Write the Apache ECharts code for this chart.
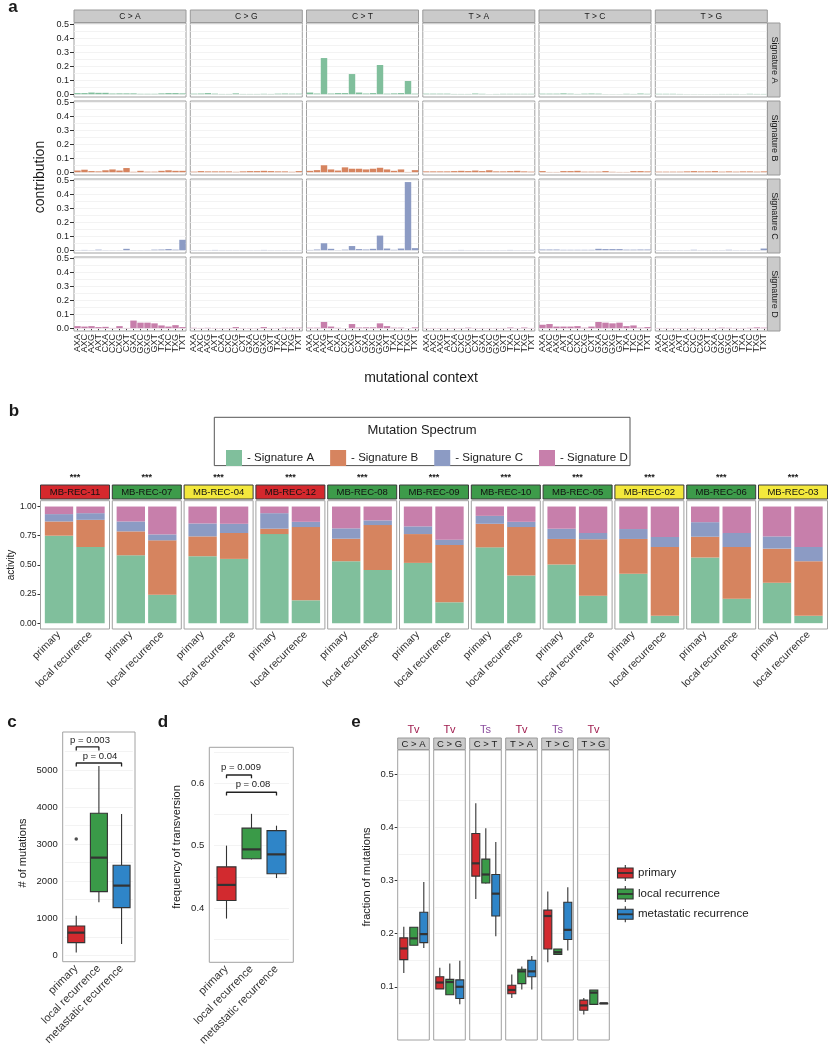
<!DOCTYPE html>
<html><head><meta charset="utf-8">
<script src="https://cdn.jsdelivr.net/npm/echarts@6/dist/echarts.min.js"></script>
<style>html,body{margin:0;padding:0;background:#fff}#c{width:830px;height:1050px}</style>
</head><body><div id="c"></div>
<script>
// ---------------- DATA ----------------
const contexts = ['AXA','AXC','AXG','AXT','CXA','CXC','CXG','CXT','GXA','GXC','GXG','GXT','TXA','TXC','TXG','TXT'];
const mutTypes = ['C > A','C > G','C > T','T > A','T > C','T > G'];
const sigNames = ['Signature A','Signature B','Signature C','Signature D'];
// signature profiles: 6 mutation types x 16 contexts (C>A, C>G, C>T, T>A, T>C, T>G)
const sigA = [
  0.008,0.008,0.012,0.01,0.01,0.005,0.006,0.006,0.006,0.003,0.003,0.003,0.006,0.008,0.008,0.006,
  0.004,0.005,0.008,0.004,0.002,0.002,0.006,0.002,0.002,0.002,0.003,0.002,0.004,0.005,0.004,0.004,
  0.012,0.005,0.26,0.005,0.008,0.008,0.145,0.012,0.005,0.008,0.21,0.004,0.006,0.008,0.095,0.004,
  0.004,0.004,0.004,0.004,0.002,0.002,0.002,0.005,0.003,0.001,0.002,0.003,0.003,0.003,0.003,0.003,
  0.004,0.004,0.004,0.006,0.004,0.002,0.004,0.005,0.004,0.001,0.001,0.001,0.003,0.002,0.005,0.003,
  0.003,0.003,0.003,0.002,0.001,0.001,0.001,0.001,0.001,0.002,0.002,0.002,0.001,0.003,0.002,0.002];
const sigB = [
  0.012,0.018,0.008,0.006,0.014,0.02,0.012,0.03,0.003,0.01,0.004,0.004,0.01,0.014,0.01,0.01,
  0.004,0.008,0.006,0.006,0.006,0.006,0.003,0.006,0.008,0.008,0.01,0.008,0.006,0.006,0.003,0.008,
  0.01,0.015,0.05,0.02,0.012,0.035,0.025,0.025,0.02,0.025,0.032,0.02,0.01,0.02,0.002,0.015,
  0.006,0.006,0.006,0.006,0.008,0.01,0.008,0.012,0.008,0.014,0.006,0.006,0.008,0.01,0.006,0.004,
  0.008,0.002,0.002,0.008,0.008,0.01,0.004,0.004,0.004,0.008,0.003,0.002,0.002,0.008,0.008,0.006,
  0.004,0.004,0.004,0.004,0.006,0.008,0.006,0.006,0.008,0.004,0.006,0.004,0.006,0.006,0.004,0.006];
const sigC = [
  0.001,0.002,0.001,0.004,0.001,0.001,0.001,0.01,0.001,0.001,0.001,0.004,0.005,0.008,0.004,0.075,
  0.001,0.001,0.001,0.002,0.001,0.001,0.001,0.001,0.001,0.001,0.002,0.001,0.001,0.001,0.001,0.001,
  0.002,0.005,0.05,0.01,0.001,0.004,0.03,0.008,0.005,0.01,0.105,0.012,0.003,0.012,0.49,0.015,
  0.001,0.001,0.001,0.001,0.001,0.002,0.001,0.001,0.001,0.001,0.001,0.001,0.002,0.001,0.001,0.001,
  0.005,0.005,0.005,0.003,0.003,0.003,0.003,0.003,0.01,0.008,0.008,0.008,0.004,0.004,0.005,0.005,
  0.001,0.001,0.001,0.001,0.001,0.003,0.001,0.001,0.001,0.001,0.003,0.001,0.001,0.001,0.001,0.012];
const sigD = [
  0.015,0.012,0.015,0.008,0.01,0.002,0.015,0.002,0.055,0.04,0.04,0.035,0.02,0.012,0.022,0.008,
  0.003,0.002,0.003,0.002,0.002,0.002,0.008,0.002,0.002,0.002,0.008,0.002,0.002,0.004,0.004,0.004,
  0.004,0.004,0.045,0.012,0.003,0.001,0.03,0.005,0.006,0.006,0.035,0.015,0.004,0.004,0.001,0.006,
  0.002,0.002,0.002,0.002,0.002,0.002,0.004,0.002,0.002,0.002,0.002,0.002,0.005,0.002,0.005,0.002,
  0.025,0.03,0.012,0.012,0.012,0.015,0.004,0.012,0.045,0.04,0.035,0.04,0.015,0.02,0.004,0.008,
  0.002,0.002,0.002,0.002,0.002,0.003,0.002,0.002,0.002,0.004,0.003,0.002,0.002,0.003,0.006,0.004];
const aTicks = [0, 0.1, 0.2, 0.3, 0.4, 0.5];
const aGrid = [0, 0.05, 0.1, 0.15, 0.2, 0.25, 0.3, 0.35, 0.4, 0.45, 0.5];

// panel b
const samples = ['MB-REC-11','MB-REC-07','MB-REC-04','MB-REC-12','MB-REC-08','MB-REC-09','MB-REC-10','MB-REC-05','MB-REC-02','MB-REC-06','MB-REC-03'];
const sampleClass = [1,2,3,1,2,2,2,2,3,2,3];
const sampleStars = ['***','***','***','***','***','***','***','***','***','***','***'];
const conditions = ['primary','local recurrence'];
const priA = [0.750,0.582,0.574,0.764,0.531,0.517,0.650,0.503,0.423,0.563,0.347];
const priB = [0.122,0.205,0.170,0.046,0.193,0.247,0.202,0.219,0.299,0.178,0.292];
const priC = [0.063,0.085,0.111,0.133,0.089,0.066,0.068,0.088,0.085,0.125,0.105];
const priD = [0.065,0.128,0.145,0.057,0.187,0.170,0.080,0.190,0.193,0.134,0.256];
const locA = [0.653,0.244,0.551,0.196,0.455,0.179,0.409,0.236,0.063,0.210,0.063];
const locB = [0.233,0.466,0.222,0.628,0.386,0.491,0.415,0.483,0.590,0.443,0.468];
const locC = [0.057,0.051,0.079,0.045,0.040,0.046,0.045,0.054,0.086,0.120,0.122];
const locD = [0.057,0.239,0.148,0.131,0.119,0.284,0.131,0.227,0.261,0.227,0.347];
const bTicks = [0, 0.25, 0.5, 0.75, 1];

// panel c / d / e
const groups = ['primary','local recurrence','metastatic recurrence'];
// [min, Q1, median, Q3, max]
const mutCount = [[72,342,611,791,1070],[1430,1718,2635,3831,5108],[306,1286,1880,2428,3813]];
const mutCountOutliers = [[0,3138]];
const cTicks = [0,1000,2000,3000,4000,5000];
const cGrid = [0,500,1000,1500,2000,2500,3000,3500,4000,4500,5000,5500];
const cTests = [{from:0,to:1,p:'p = 0.003',y:5621},{from:0,to:2,p:'p = 0.04',y:5189}];
const tvFreq = [[0.383,0.412,0.437,0.466,0.500],[0.478,0.479,0.494,0.528,0.551],[0.448,0.455,0.486,0.524,0.532]];
const dTicks = [0.4,0.5,0.6];
const dGrid = [0.35,0.4,0.45,0.5,0.55,0.6,0.65];
const dTests = [{from:0,to:1,p:'p = 0.009',y:0.6133},{from:0,to:2,p:'p = 0.08',y:0.5856}];
const mutClass = ['Tv','Tv','Ts','Tv','Ts','Tv'];
const fracPrimary = [[0.126,0.151,0.172,0.192,0.213],[0.096,0.096,0.108,0.119,0.136],[0.265,0.308,0.332,0.388,0.445],[0.079,0.087,0.094,0.103,0.123],[0.146,0.171,0.233,0.244,0.279],[0.048,0.056,0.065,0.075,0.079]];
const fracLocal   = [[0.178,0.178,0.191,0.212,0.212],[0.085,0.085,0.109,0.114,0.144],[0.294,0.295,0.311,0.340,0.398],[0.095,0.106,0.129,0.133,0.138],[0.161,0.161,0.165,0.171,0.171],[0.066,0.067,0.089,0.094,0.094]];
const fracMeta    = [[0.173,0.183,0.199,0.240,0.297],[0.067,0.078,0.100,0.113,0.149],[0.195,0.233,0.275,0.311,0.372],[0.095,0.119,0.129,0.150,0.158],[0.168,0.189,0.207,0.259,0.287],[0.069,0.069,0.069,0.069,0.069]];
const eTicks = [0.1,0.2,0.3,0.4,0.5];
const eGrid = [0.05,0.1,0.15,0.2,0.25,0.3,0.35,0.4,0.45,0.5];

// ---------------- STYLE ----------------
const FONT = 'Liberation Sans, Arial, Helvetica, sans-serif';
const sigColors = ['#80bf9c','#d6845f','#8c9bc4','#c77fab'];
const classColors = {1:'#d5282d',2:'#3d9b4a',3:'#f3e83c'};
const groupColors = ['#d22a2f','#3a9a48','#2f85c8'];
const tvColors = {Tv:'#a01c4e', Ts:'#8a4d9e'};
const FRAME = '#a2a2a2';
const STRIP_FILL = '#cacaca';
const STRIP_STROKE = '#9a9a9a';
const GRIDLINE = '#f2f2f2';

const option = {animation:false, textStyle:{fontFamily:FONT}, grid:[], xAxis:[], yAxis:[], series:[], graphic:[]};
const gfx = option.graphic;
function addGrid(g, xa, ya){
  const gi = option.grid.length;
  option.grid.push(g);
  option.xAxis.push(Object.assign({gridIndex:gi}, xa));
  option.yAxis.push(Object.assign({gridIndex:gi}, ya));
  return gi;
}
function gridLines(gi, vals){
  option.series.push({type:'line', xAxisIndex:gi, yAxisIndex:gi, data:[], z:1, silent:true,
    markLine:{silent:true, z:1, symbol:'none', animation:false, label:{show:false},
      lineStyle:{color:GRIDLINE, type:'solid', width:0.9}, data: vals.map(v=>({yAxis:v}))}});
}
function txt(x,y,text,opt){
  opt = opt||{};
  gfx.push({type:'text', x:x, y:y, rotation:opt.rot||0, silent:true, z:20,
    style:{text:text, fill:opt.color||'#1a1a1a', fontSize:opt.size||10, fontFamily:FONT,
      fontWeight:opt.weight||'normal', align:opt.align||'center', verticalAlign:opt.valign||'middle',
      textAlign:opt.align||'center', textVerticalAlign:opt.valign||'middle'}});
}
function rect(x,y,w,h,fill,stroke,lw,z){
  gfx.push({type:'rect', silent:true, z:z||15, shape:{x:x,y:y,width:w,height:h},
    style:{fill:fill||'none', stroke:stroke||'none', lineWidth:lw||1}});
}
function line(x1,y1,x2,y2,stroke,lw,z){
  gfx.push({type:'line', silent:true, z:z||20, shape:{x1:x1,y1:y1,x2:x2,y2:y2}, style:{stroke:stroke||'#222', lineWidth:lw||1}});
}
const noSplit = {show:false};

// ggplot-like box (no whisker caps, thick median)
function boxRender(bw){
  return function(params, api){
    const x = api.value(0);
    const pMin = api.coord([x, api.value(1)]), pQ1 = api.coord([x, api.value(2)]),
          pMed = api.coord([x, api.value(3)]), pQ3 = api.coord([x, api.value(4)]),
          pMax = api.coord([x, api.value(5)]);
    const cx = pMed[0], hw = bw/2, stroke = '#333';
    return {type:'group', children:[
      {type:'line', shape:{x1:cx,y1:pMax[1],x2:cx,y2:pQ3[1]}, style:{stroke:stroke, lineWidth:1.1}},
      {type:'line', shape:{x1:cx,y1:pQ1[1],x2:cx,y2:pMin[1]}, style:{stroke:stroke, lineWidth:1.1}},
      {type:'rect', shape:{x:cx-hw,y:pQ3[1],width:bw,height:Math.max(pQ1[1]-pQ3[1],0.5)},
        style:{fill:groupColors[params.dataIndex], stroke:stroke, lineWidth:1.1}},
      {type:'line', shape:{x1:cx-hw,y1:pMed[1],x2:cx+hw,y2:pMed[1]}, style:{stroke:stroke, lineWidth:2.2}}
    ]};
  };
}
function boxSeries(gi, vals, bw){
  return {type:'custom', xAxisIndex:gi, yAxisIndex:gi, silent:true, renderItem:boxRender(bw),
    encode:{x:0, y:[1,2,3,4,5]}, data: vals.map((v,k)=>[k].concat(v)), z:3};
}

// ---------------- PANEL A ----------------
const aCols = [74,190.3,306.5,422.8,539,655.3];
const aW = 112, aH = 74;
const profiles = [sigA, sigB, sigC, sigD];
for (let r=0;r<4;r++){
  const top = 23 + r*78;
  for (let c=0;c<6;c++){
    const gi = addGrid({left:aCols[c], top:top, width:aW, height:aH, show:true, borderColor:FRAME, borderWidth:1, backgroundColor:'#fff'},
      {type:'category', data:contexts, axisLine:{show:false},
       axisTick:{show:r===3, length:2, alignWithLabel:true, interval:0, lineStyle:{color:'#444'}},
       axisLabel:{show:r===3, rotate:90, interval:0, fontSize:9, margin:3, color:'#222'}},
      {type:'value', min:-0.02, max:0.512, splitLine:noSplit, axisLine:{show:false},
       axisTick:{show:c===0, length:4, customValues:aTicks, lineStyle:{color:'#333'}},
       axisLabel:{show:c===0, customValues:aTicks, fontSize:9, margin:5, color:'#222', formatter:v=>Number(v).toFixed(1)}});
    gridLines(gi, aGrid);
    option.series.push({type:'bar', xAxisIndex:gi, yAxisIndex:gi, barCategoryGap:'8%', z:2,
      data: profiles[r].slice(c*16, c*16+16), itemStyle:{color:sigColors[r]}, silent:true});
  }
}
for (let c=0;c<6;c++){
  rect(aCols[c], 10, aW, 12.5, STRIP_FILL, STRIP_STROKE, 1);
  txt(aCols[c]+aW/2, 16.5, mutTypes[c], {size:8.5});
}
for (let r=0;r<4;r++){
  const top = 23 + r*78;
  rect(767.5, top, 12.5, aH, STRIP_FILL, STRIP_STROKE, 1);
  txt(774, top+aH/2, sigNames[r], {size:9, rot:-Math.PI/2});
}
txt(40, 177, 'contribution', {size:14, rot:Math.PI/2});
txt(421, 378, 'mutational context', {size:14});
txt(13, 7, 'a', {size:17, weight:'bold'});

// ---------------- PANEL B ----------------
txt(14, 411, 'b', {size:17, weight:'bold'});
rect(214.3, 417.3, 415.7, 48.3, 'none', '#555', 1, 1);
txt(422, 430, 'Mutation Spectrum', {size:13});
option.legend = {data:sigNames, left:221, top:445, itemWidth:16, itemHeight:16, itemGap:16, icon:'rect',
  selectedMode:false, z:30, textStyle:{fontSize:11.5, color:'#1a1a1a', fontFamily:FONT},
  formatter: n => '- ' + n};
const priVals = [priA, priB, priC, priD], locVals = [locA, locB, locC, locD];
const bTop = 500.7, bH = 128.3, bFW = 69;
for (let i=0;i<samples.length;i++){
  const fx = 40.5 + 71.8*i;
  const gi = addGrid({left:fx+2.75, top:bTop, width:63, height:bH},
    {type:'category', data:conditions, axisLine:{show:false},
     axisTick:{alignWithLabel:true, length:3, lineStyle:{color:'#333'}},
     axisLabel:{rotate:45, interval:0, fontSize:10.5, margin:4, color:'#333'}},
    {type:'value', min:-0.05, max:1.05, offset:2.75, splitLine:noSplit, axisLine:{show:false},
     axisTick:{show:i===0, length:3, customValues:bTicks, lineStyle:{color:'#333'}},
     axisLabel:{show:i===0, customValues:bTicks, fontSize:8.5, margin:4, color:'#222', formatter:v=>Number(v).toFixed(2)}});
  for (let s=0;s<4;s++){
    option.series.push({type:'bar', name:sigNames[s], stack:'b'+i, xAxisIndex:gi, yAxisIndex:gi,
      barCategoryGap:'10%', data:[priVals[s][i], locVals[s][i]], itemStyle:{color:sigColors[s]}, silent:true});
  }
  rect(fx, bTop, bFW, bH, 'none', FRAME, 1);
  rect(fx, 485, bFW, 14, classColors[sampleClass[i]], '#3a3a3a', 1);
  txt(fx+bFW/2, 492.3, samples[i], {size:9.5, color:'#111'});
  txt(fx+bFW/2, 477.5, sampleStars[i], {size:9, weight:'bold'});
}
txt(11, 565, 'activity', {size:10, rot:Math.PI/2});

// ---------------- PANEL C ----------------
txt(12, 722, 'c', {size:17, weight:'bold'});
{
  const gi = addGrid({left:64.9, top:732, width:68, height:229.7},
    {type:'category', data:groups, axisLine:{show:false},
     axisTick:{alignWithLabel:true, length:4, lineStyle:{color:'#333'}},
     axisLabel:{rotate:45, interval:0, fontSize:11, margin:5, color:'#333'}},
    {type:'value', min:-173, max:6025, offset:2.2, splitLine:noSplit, axisLine:{show:false},
     axisTick:{length:4, customValues:cTicks, lineStyle:{color:'#333'}},
     axisLabel:{customValues:cTicks, fontSize:9.5, margin:5, color:'#222', formatter:v=>String(v)}});
  gridLines(gi, cGrid);
  option.series.push(boxSeries(gi, mutCount, 17));
  option.series.push({type:'scatter', xAxisIndex:gi, yAxisIndex:gi, symbolSize:3.5, silent:true,
    itemStyle:{color:'#222'}, data:mutCountOutliers});
  cTests.forEach(t=>{
    const d = (6025+173)/229.7*3.5;
    option.series.push({type:'line', xAxisIndex:gi, yAxisIndex:gi, symbol:'none', silent:true,
      lineStyle:{color:'#222', width:1.3},
      data:[[t.from, t.y-d],[t.from, t.y],[t.to, t.y],[t.to, t.y-d]]});
  });
  rect(62.7, 732, 72.3, 229.7, 'none', FRAME, 1);
  txt(90, 740, cTests[0].p, {size:9.5});
  txt(100, 756, cTests[1].p, {size:9.5});
  txt(23, 853, '# of mutations', {size:11, rot:Math.PI/2});
}

// ---------------- PANEL D ----------------
txt(163, 722, 'd', {size:17, weight:'bold'});
{
  const gi = addGrid({left:214, top:747.3, width:75, height:215},
    {type:'category', data:groups, axisLine:{show:false},
     axisTick:{alignWithLabel:true, length:4, lineStyle:{color:'#333'}},
     axisLabel:{rotate:45, interval:0, fontSize:11, margin:5, color:'#333'}},
    {type:'value', min:0.3129, max:0.6577, offset:4.7, splitLine:noSplit, axisLine:{show:false},
     axisTick:{length:4, customValues:dTicks, lineStyle:{color:'#333'}},
     axisLabel:{customValues:dTicks, fontSize:9.5, margin:5, color:'#222', formatter:v=>Number(v).toFixed(1)}});
  gridLines(gi, dGrid);
  option.series.push(boxSeries(gi, tvFreq, 19));
  dTests.forEach(t=>{
    const d = (0.6577-0.3129)/215*3.2;
    option.series.push({type:'line', xAxisIndex:gi, yAxisIndex:gi, symbol:'none', silent:true,
      lineStyle:{color:'#222', width:1.3},
      data:[[t.from, t.y-d],[t.from, t.y],[t.to, t.y],[t.to, t.y-d]]});
  });
  rect(209.3, 747.3, 84, 215, 'none', FRAME, 1);
  txt(241, 767.5, dTests[0].p, {size:9.5});
  txt(253, 784.5, dTests[1].p, {size:9.5});
  txt(177, 847, 'frequency of transversion', {size:11, rot:Math.PI/2});
}

// ---------------- PANEL E ----------------
txt(356, 722, 'e', {size:17, weight:'bold'});
for (let i=0;i<6;i++){
  const fx = 397.7 + 36*i;
  const gi = addGrid({left:fx+1.1, top:750, width:30, height:290},
    {type:'category', data:groups, axisLine:{show:false}, axisTick:{show:false}, axisLabel:{show:false}},
    {type:'value', min:0, max:0.545, offset:1.1, splitLine:noSplit, axisLine:{show:false},
     axisTick:{show:i===0, length:3, customValues:eTicks, lineStyle:{color:'#333'}},
     axisLabel:{show:i===0, customValues:eTicks, fontSize:9.5, margin:4, color:'#222', formatter:v=>Number(v).toFixed(1)}});
  gridLines(gi, eGrid);
  option.series.push(boxSeries(gi, [fracPrimary[i], fracLocal[i], fracMeta[i]], 8));
  rect(fx, 750, 31.6, 290, 'none', FRAME, 1);
  rect(fx, 738, 31.6, 11.5, STRIP_FILL, STRIP_STROKE, 1);
  txt(fx+15.8, 744, mutTypes[i], {size:9.5});
  txt(fx+15.8, 729.5, mutClass[i], {size:11, color:tvColors[mutClass[i]]});
}
txt(366.5, 877, 'fraction of mutations', {size:11, rot:Math.PI/2});
// legend for e
[873, 894, 914.3].forEach((cy,k)=>{
  line(625.3, cy-8, 625.3, cy+8, '#333', 1.1, 20);
  rect(617.5, cy-5, 15.6, 10, groupColors[k], '#333', 1.1, 21);
  line(617.5, cy, 633.1, cy, '#333', 1.8, 22);
  txt(638, cy, groups[k], {size:11.5, align:'left'});
});

const chart = echarts.init(document.getElementById('c'), null, {renderer:'canvas'});
chart.setOption(option);
</script></body></html>
